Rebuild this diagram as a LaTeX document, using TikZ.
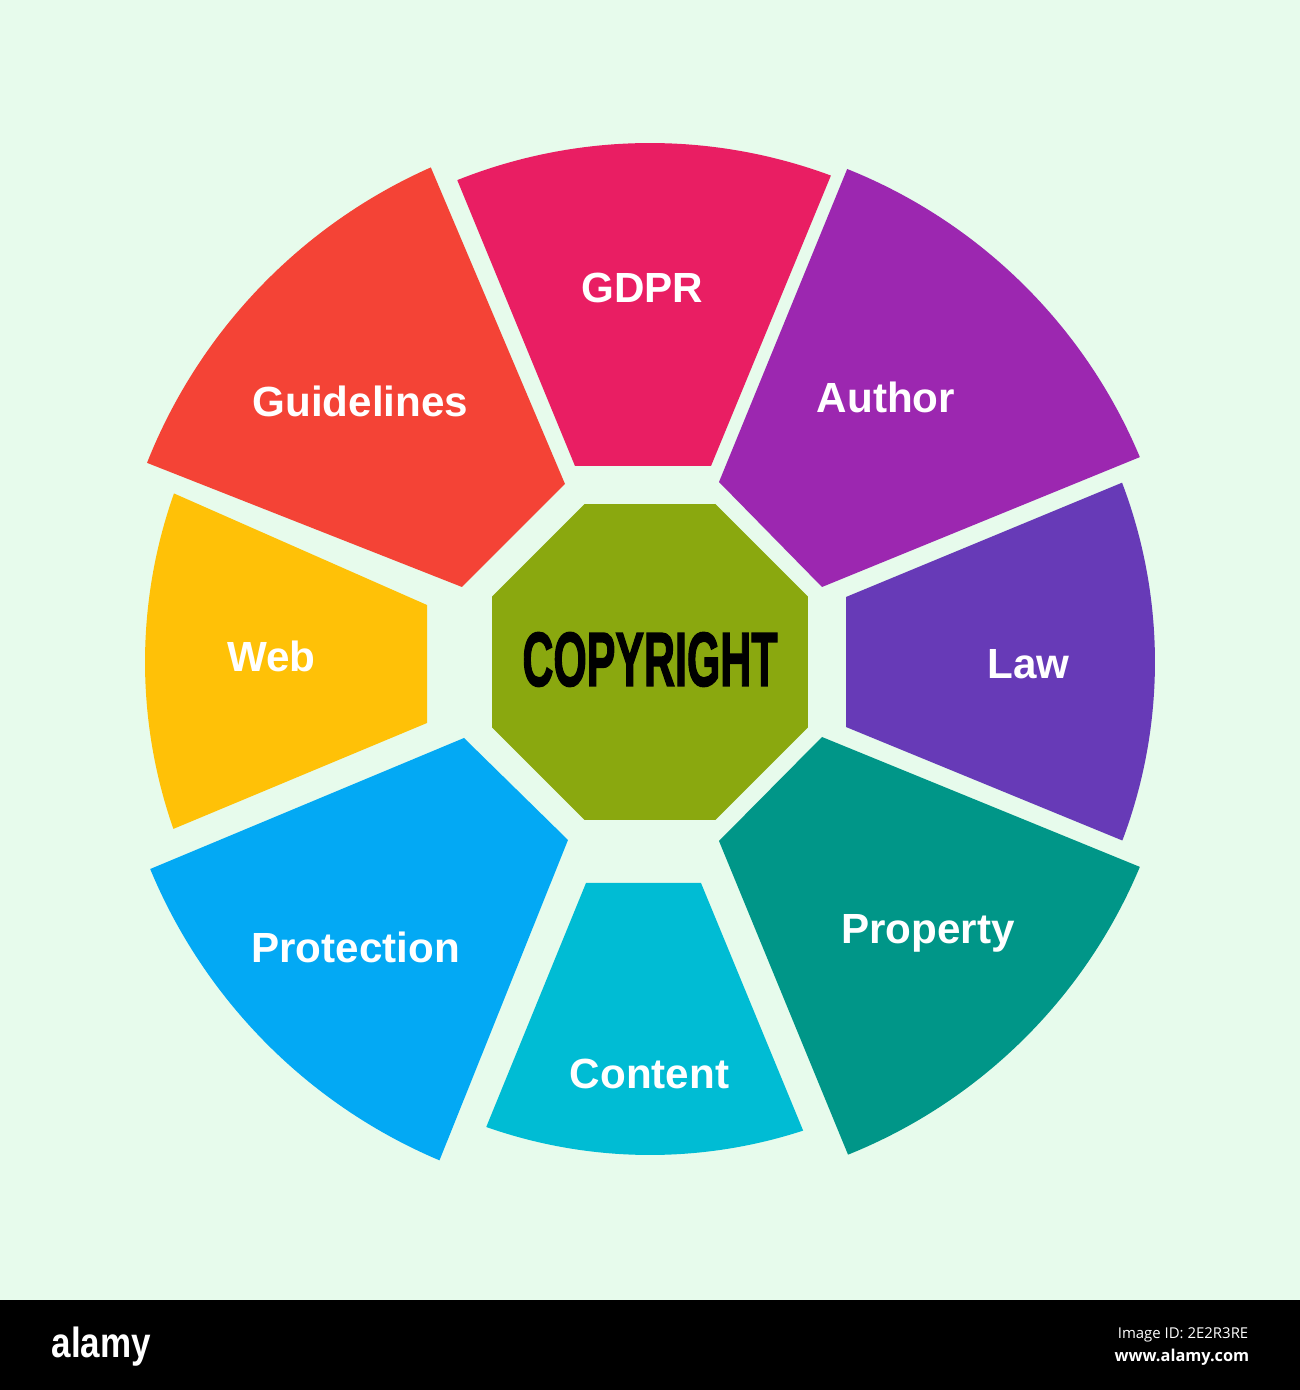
\documentclass[tikz,border=0pt]{standalone}
\usepackage{fontspec}
\setmainfont{Liberation Sans}
\newfontfamily\barfont{Open Sans}
\newfontfamily\heavyfont[FakeBold=2.2]{Liberation Sans Bold}
\usepackage{graphicx}
\usepackage{tikz}
\usetikzlibrary{calc,shapes.geometric}
\definecolor{bg}{HTML}{E7FBEC}
\definecolor{gdpr}{HTML}{E91E63}
\definecolor{author}{HTML}{9C27B0}
\definecolor{law}{HTML}{673AB7}
\definecolor{property}{HTML}{009688}
\definecolor{content}{HTML}{00BCD4}
\definecolor{protection}{HTML}{03A9F4}
\definecolor{web}{HTML}{FFC107}
\definecolor{guide}{HTML}{F44336}
\definecolor{octo}{HTML}{8AA80F}
\tikzset{
  lab/.style={text=white, anchor=base, inner sep=0pt, font=\fontsize{12}{14}\selectfont\bfseries},
  core/.style={regular polygon, regular polygon sides=8, fill=octo, minimum size=3.42cm, inner sep=0pt, outer sep=0pt},
  corelab/.style={text=black, font=\heavyfont\fontsize{21.8}{24}\selectfont},
  barlab/.style={text=white, inner sep=0pt}
}

\begin{document}
\begin{tikzpicture}
  \useasboundingbox (0,0) rectangle (13,13.90);
  \fill[bg] (0,0.90) rectangle (13,13.90);
  \fill[black] (0,0) rectangle (13,0.90);

  \coordinate (O) at (6.50,7.28);

  \fill[gdpr] (5.75,9.24) -- ($(O)+(111.8:5.19)$) arc[start angle=111.8, end angle=69.6, radius=5.19] -- (7.11,9.24) -- cycle;
  \fill[author] (7.19,9.08) -- ($(O)+(68.2:5.31)$) arc[start angle=68.2, end angle=22.7, radius=5.31] -- (8.22,8.03) -- cycle;
  \fill[law] (8.46,7.93) -- ($(O)+(20.8:5.05)$) arc[start angle=20.8, end angle=-20.7, radius=5.05] -- (8.46,6.63) -- cycle;
  \fill[property] (8.22,6.53) -- ($(O)+(-22.7:5.31)$) arc[start angle=-22.7, end angle=-68.1, radius=5.31] -- (7.19,5.49) -- cycle;
  \fill[content] (7.01,5.07) -- ($(O)+(-71.9:4.93)$) arc[start angle=-71.9, end angle=-109.4, radius=4.93] -- (5.86,5.07) -- cycle;
  \fill[protection] (5.68,5.50) -- ($(O)+(247.1:5.41)$) arc[start angle=247.1, end angle=202.5, radius=5.41] -- (4.64,6.52) -- cycle;
  \fill[web] (4.27,6.67) -- ($(O)+(199.3:5.05)$) arc[start angle=199.3, end angle=160.5, radius=5.05] -- (4.27,7.85) -- cycle;
  \fill[guide] (4.62,8.03) -- ($(O)+(158.4:5.41)$) arc[start angle=158.4, end angle=113.9, radius=5.41] -- (5.65,9.06) -- cycle;

  \node[core] (copyright) at (O) {};
  \node[corelab] (copytext) at ($(O)+(0,0.025)$) {\scalebox{0.56}[1]{COPYRIGHT}};

  \node[lab] (gdprlab) at (6.425,10.87) {GDPR};
  \node[lab] (authorlab) at (8.86,9.77) {Author};
  \node[lab] (lawlab) at (10.285,7.11) {Law};
  \node[lab] (proplab) at (9.28,4.47) {Property};
  \node[lab] (contlab) at (6.495,3.01) {Content};
  \node[lab] (protlab) at (3.555,4.27) {Protection};
  \node[lab] (weblab) at (2.715,7.18) {Web};
  \node[lab] (guidelab) at (3.605,9.73) {Guidelines};

  \node[barlab, anchor=base west] (alamylogo) at (0.51,0.32) {\fontsize{12}{14}\selectfont\bfseries\scalebox{0.83}[1]{alamy}};
  \node[barlab, anchor=base east] (imageid) at (12.49,0.52) {\barfont\fontsize{4.25}{5}\selectfont Image ID: 2E2R3RE};
  \node[barlab, anchor=base east] (website) at (12.50,0.29) {\barfont\bfseries\fontsize{4.65}{5.5}\selectfont www.alamy.com};
\end{tikzpicture}
\end{document}
